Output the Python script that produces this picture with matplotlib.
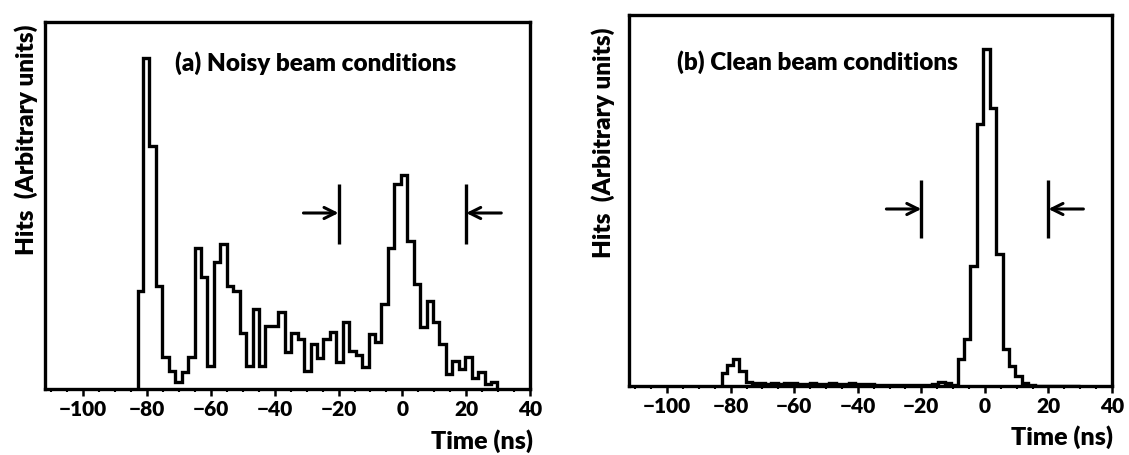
import numpy as np
import matplotlib
matplotlib.use("Agg")
import matplotlib.pyplot as plt
from matplotlib.ticker import MultipleLocator
from matplotlib import font_manager

plt.rcParams['font.family'] = ['Lato', 'DejaVu Sans']
plt.rcParams['font.weight'] = 'bold'

# ---- data (time in ns, hits in arbitrary units) ----
partial_edge = -82.7          # start of first (partial) bin
first_edge = -81.3            # first full bin edge
bin_width = 2.02
n_full_bins = 55

noisy_counts = [98, 331, 243, 103, 32, 18, 7, 17, 32, 141,
                112, 23, 127, 145, 103, 98, 56, 23, 80, 23,
                63, 63, 77, 37, 56, 50, 18, 45, 31, 50,
                57, 27, 67, 38, 34, 22, 55, 47, 85, 141,
                205, 214, 148, 105, 62, 88, 67, 45, 15, 28,
                20, 32, 11, 17, 5, 7]

clean_counts = [13, 21, 27, 15,
                4, 3, 3, 2, 3, 2, 3, 3, 2, 2,
                3, 2, 2, 3, 2, 2, 3, 2, 2, 2,
                1, 1, 1, 1, 1, 1, 1, 1, 1, 2,
                4, 3, 1,
                27, 47, 120, 262, 337, 278, 132, 37, 20, 10, 3,
                1, 0, 0, 0, 0, 0, 0, 0]

window_edges = [-20, 20]
titles = ["(a) Noisy beam conditions", "(b) Clean beam conditions"]
x_ticks = [-100, -80, -60, -40, -20, 0, 20, 40]
x_tick_labels = ["\u2212100", "\u221280", "\u221260", "\u221240", "\u221220", "0", "20", "40"]
x_range = [-112, 40]

edges = np.concatenate([[partial_edge], first_edge + bin_width * np.arange(n_full_bins + 1)])

W, H = 1129, 455
fig = plt.figure(figsize=(W / 100, H / 100), dpi=100)

WEIGHT = 'heavy'

def frac(l, t, r, b):
    return [l / W, 1 - b / H, (r - l) / W, (b - t) / H]

panels = [
    dict(rect=frac(45, 22, 530, 389), ymax=367, counts=noisy_counts,
         arrow_y=176, bar=(145, 205), title_xy=(175, 63),
         ylab_x=26, ylab_y=140, xlab=(533, 441)),
    dict(rect=frac(629, 15, 1112, 386), ymax=371, counts=clean_counts,
         arrow_y=177, bar=(148, 206), title_xy=(677, 62),
         ylab_x=603, ylab_y=143, xlab=(1113, 437)),
]

for p, title in zip(panels, titles):
    ax = fig.add_axes(p['rect'])
    ax.stairs(p['counts'], edges, baseline=0, color='black', lw=2.4)
    ax.set_xlim(*x_range)
    ax.set_ylim(0, p['ymax'])
    ax.set_xticks(x_ticks)
    ax.set_xticklabels(x_tick_labels, fontsize=15, fontweight=WEIGHT)
    ax.xaxis.set_minor_locator(MultipleLocator(5))
    ax.set_yticks([])
    ax.tick_params(axis='x', which='major', direction='out', length=5, width=1.8, pad=3)
    ax.tick_params(axis='x', which='minor', direction='out', length=2.5, width=1.5)
    for s in ax.spines.values():
        s.set_linewidth(2.4)

    # window markers
    for xe, direction in zip(window_edges, [1, -1]):
        ax.plot([xe, xe], p['bar'], color='black', lw=2.4, solid_capstyle='butt')
        ax.annotate('', xy=(xe, p['arrow_y']), xytext=(xe - direction * 11, p['arrow_y']),
                    arrowprops=dict(arrowstyle='->,head_length=0.8,head_width=0.4',
                                    color='black', lw=2.2, shrinkA=0, shrinkB=0))

    fig.text(p['title_xy'][0] / W, 1 - p['title_xy'][1] / H, title,
             ha='left', va='center', fontsize=17.5, fontweight=WEIGHT)
    fig.text(p['ylab_x'] / W, 1 - p['ylab_y'] / H, "Hits  (Arbitrary units)",
             rotation=90, ha='center', va='center', fontsize=17.5, fontweight=WEIGHT)
    fig.text(p['xlab'][0] / W, 1 - p['xlab'][1] / H, "Time (ns)",
             ha='right', va='center', fontsize=18, fontweight=WEIGHT)

fig.savefig("out.png", dpi=100)
